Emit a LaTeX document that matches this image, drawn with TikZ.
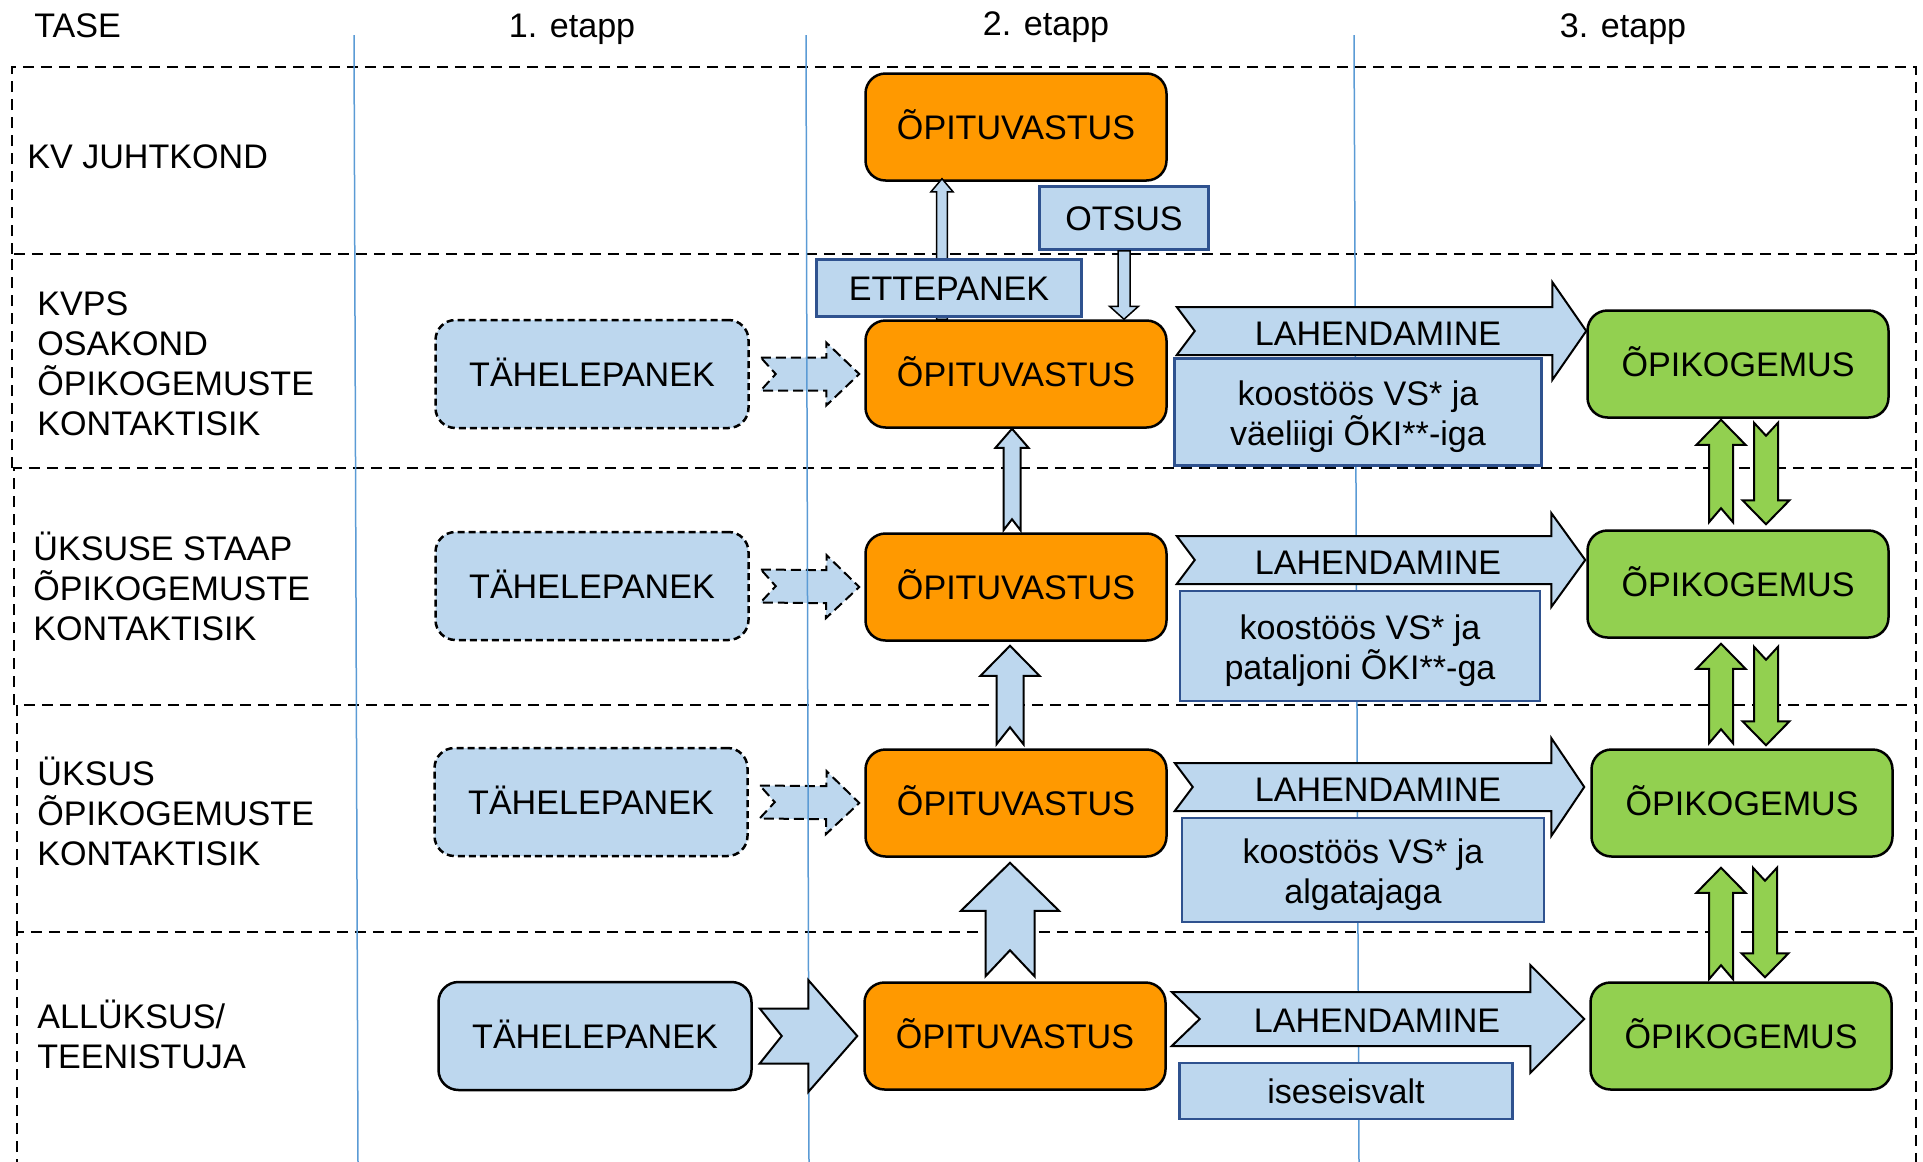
\documentclass[tikz,border=0pt]{standalone}
\usepackage{fontspec}
\setmainfont{Liberation Sans}
\usetikzlibrary{calc}

\definecolor{lblue}{RGB}{189,215,238}
\definecolor{orng}{RGB}{255,153,0}
\definecolor{lgreen}{RGB}{146,208,80}
\definecolor{dblue}{RGB}{47,82,143}
\definecolor{gridblue}{RGB}{91,155,213}

% block arrow: [style]{tail}{tip}{shaft half width}{head half width}{head length}{notch}
\newcommand{\blockarrow}[7][]{%
  \coordinate (ba-t) at (#2);
  \coordinate (ba-h) at (#3);
  \coordinate (ba-b) at ($(ba-h)!#6!(ba-t)$);
  \coordinate (ba-n) at ($(ba-t)!#7!(ba-h)$);
  \draw[#1] ($(ba-t)!#4!90:(ba-h)$) -- ($(ba-b)!#4!90:(ba-h)$)
    -- ($(ba-b)!#5!90:(ba-h)$) -- (ba-h) -- ($(ba-b)!#5!-90:(ba-h)$)
    -- ($(ba-b)!#4!-90:(ba-h)$) -- ($(ba-t)!#4!-90:(ba-h)$) -- (ba-n) -- cycle;
}

\begin{document}
\begin{tikzpicture}[x=0.1mm,y=-0.1mm,
    font=\fontsize{9.7}{11.4}\selectfont,
    oneline/.style={text height=0.905em,text depth=0.212em},
    roundbox/.style={oneline,rounded corners=2mm,line width=0.25mm,draw,inner sep=0pt,
      minimum width=30.1mm,minimum height=10.7mm},
    obs/.style={roundbox,fill=lblue,minimum width=31.3mm,minimum height=10.8mm},
    obsdash/.style={obs,dash pattern=on 0.7mm off 0.4mm},
    resp/.style={roundbox,fill=orng},
    lesson/.style={roundbox,fill=lgreen},
    notebox/.style={fill=lblue,draw=dblue,line width=0.25mm,inner sep=0pt,align=center},
    twoline/.style={notebox,label={[align=center,yshift=-0.5mm]center:#1}},
    lvllabel/.style={anchor=west,align=left},
    bandline/.style={dash pattern=on 1.1mm off 0.7mm,line width=0.2mm},
    colline/.style={gridblue,line width=0.15mm},
    bluearr/.style={fill=lblue,draw,line width=0.2mm},
    dasharr/.style={bluearr,dash pattern=on 1mm off 0.5mm},
    greenarr/.style={fill=lgreen,draw,line width=0.2mm}]
  \useasboundingbox (0,0) rectangle (1923,1162);

  % bands
  \draw[bandline] (12,254) -- (12,67) -- (1916,67) -- (1916,254);
  \draw[bandline] (12,468) -- (12,254) -- (1916,254) -- (1916,468);
  \draw[bandline] (14,705) -- (14,468) -- (1916,468) -- (1916,705);
  \draw[bandline] (17,932) -- (17,705) -- (1916,705) -- (1916,932);
  \draw[bandline] (17,1170) -- (17,932) -- (1916,932) -- (1916,1170);
  \draw[colline] (354,35) -- (358,1162);
  \draw[colline] (1354,35) -- (1359,1162);

  % headings
  \node[oneline,anchor=west] (tase) at (22,25) {TASE};
  \node[oneline] (et1) at (572,25) {1. etapp};
  \node[oneline] (et2) at (1046,23) {2. etapp};
  \node[oneline] (et3) at (1623,25) {3. etapp};

  \node[lvllabel] (lvl0) at (15,157) {KV JUHTKOND};
  \node[lvllabel] (lvl1) at (25,364) {KVPS\\OSAKOND\\ÕPIKOGEMUSTE\\KONTAKTISIK};
  \node[lvllabel] (lvl2) at (21,586) {ÜKSUSE STAAP\\ÕPIKOGEMUSTE\\KONTAKTISIK};
  \node[lvllabel] (lvl3) at (25,811) {ÜKSUS\\ÕPIKOGEMUSTE\\KONTAKTISIK};
  \node[lvllabel] (lvl4) at (25,1034) {ALLÜKSUS/\\TEENISTUJA};

  % boxes
  \node[obsdash] (tah1) at (592,374) {TÄHELEPANEK};
  \node[obsdash] (tah2) at (592,586) {TÄHELEPANEK};
  \node[obsdash] (tah3) at (591,802) {TÄHELEPANEK};
  \node[obs] (tah4) at (595,1036) {TÄHELEPANEK};

  \node[resp] (opv0) at (1016,127) {ÕPITUVASTUS};
  \node[resp] (opv1) at (1016,374) {ÕPITUVASTUS};
  \node[resp] (opv2) at (1016,587) {ÕPITUVASTUS};
  \node[resp] (opv3) at (1016,803) {ÕPITUVASTUS};
  \node[resp] (opv4) at (1015,1036) {ÕPITUVASTUS};

  \node[lesson] (opk1) at (1738,364) {ÕPIKOGEMUS};
  \node[lesson] (opk2) at (1738,584) {ÕPIKOGEMUS};
  \node[lesson] (opk3) at (1742,803) {ÕPIKOGEMUS};
  \node[lesson] (opk4) at (1741,1036) {ÕPIKOGEMUS};

  \foreach \r in {1,2,3}{
    \blockarrow[dasharr]{$(tah\r.east)+(11,0)$}{$(opv\r.west)+(-5,0)$}{1.65mm}{3.15mm}{3.3mm}{1.5mm}
  }
  \draw[colline] (806,35) -- (809,1162);
  \blockarrow[bluearr]{$(tah4.east)+(7,0)$}{$(opv4.west)+(-6,0)$}{2.75mm}{5.6mm}{4.9mm}{2.2mm}

  % up to KV juhtkond, under the proposal box
  \blockarrow[bluearr,line width=0.15mm]{$(opv1.north)+(-74,0)$}{$(opv0.south)+(-74,-3)$}{0.53mm}{1.1mm}{1.3mm}{0mm}
  \node[notebox,oneline,minimum width=26.5mm,minimum height=5.7mm] (ettepanek) at (949,288) {ETTEPANEK};
  \node[notebox,oneline,minimum width=16.9mm,minimum height=6.3mm] (otsus) at (1124,218) {OTSUS};
  \blockarrow[bluearr,line width=0.15mm]{otsus.south}{$(opv1.north)+(108,0)$}{0.6mm}{1.45mm}{1.3mm}{0mm}

  % solving
  \blockarrow[bluearr]{$(opv1.east)+(9,-43)$}{$(opk1.west)+(0,-33)$}{2.4mm}{4.9mm}{3.4mm}{1.8mm}
  \blockarrow[bluearr]{$(opv2.east)+(9,-27)$}{$(opk2.west)+(-1,-24)$}{2.4mm}{4.7mm}{3.4mm}{1.8mm}
  \blockarrow[bluearr]{$(opv3.east)+(7,-16)$}{$(opk3.west)+(-6,-16)$}{2.4mm}{4.9mm}{3.3mm}{1.8mm}
  \blockarrow[bluearr]{$(opv4.east)+(5,-17)$}{$(opk4.west)+(-5,-17)$}{2.7mm}{5.4mm}{5.4mm}{2.8mm}
  \node[oneline] (lah1) at (1378,333) {LAHENDAMINE};
  \node[oneline] (lah2) at (1378,562) {LAHENDAMINE};
  \node[oneline] (lah3) at (1378,789) {LAHENDAMINE};
  \node[oneline] (lah4) at (1377,1020) {LAHENDAMINE};

  \node[twoline={koostöös VS* ja\\väeliigi ÕKI**-iga},minimum width=36.7mm,minimum height=10.7mm] (note1) at (1358,412) {};
  \node[twoline={koostöös VS* ja\\pataljoni ÕKI**-ga},minimum width=36mm,minimum height=11mm] (note2) at (1360,646) {};
  \node[twoline={koostöös VS* ja\\algatajaga},minimum width=36.2mm,minimum height=10.4mm] (note3) at (1363,870) {};
  \node[notebox,oneline,minimum width=33.3mm,minimum height=5.6mm] (note4) at (1346,1091) {iseseisvalt};

  % reporting upwards
  \blockarrow[bluearr]{$(opv2.north)+(-4,-2)$}{$(opv1.south)+(-4,0)$}{0.85mm}{1.65mm}{1.9mm}{1.1mm}
  \blockarrow[bluearr]{$(opv3.north)+(-6,-4)$}{$(opv2.south)+(-6,4)$}{1.35mm}{2.95mm}{3mm}{1.7mm}
  \blockarrow[bluearr]{$(opv4.north)+(-5,-5)$}{$(opv3.south)+(-6,5)$}{2.45mm}{4.9mm}{4.8mm}{2.6mm}

  % sharing lessons
  \blockarrow[greenarr]{$(opk2.north)+(-17,-7)$}{$(opk1.south)+(-17,1)$}{1.2mm}{2.45mm}{2.5mm}{1.4mm}
  \blockarrow[greenarr]{$(opk1.south)+(28,4)$}{$(opk2.north)+(28,-5)$}{1.2mm}{2.35mm}{2.4mm}{1.3mm}
  \blockarrow[greenarr]{$(opk3.north)+(-21,-5)$}{$(opk2.south)+(-17,5)$}{1.2mm}{2.45mm}{2.5mm}{1.4mm}
  \blockarrow[greenarr]{$(opk2.south)+(28,8)$}{$(opk3.north)+(24,-3)$}{1.2mm}{2.35mm}{2.4mm}{1.3mm}
  \blockarrow[greenarr]{$(opk4.north)+(-20,-2)$}{$(opk3.south)+(-21,10)$}{1.2mm}{2.45mm}{2.5mm}{1.4mm}
  \blockarrow[greenarr]{$(opk3.south)+(23,10)$}{$(opk4.north)+(24,-4)$}{1.2mm}{2.35mm}{2.4mm}{1.3mm}
\end{tikzpicture}
\end{document}
